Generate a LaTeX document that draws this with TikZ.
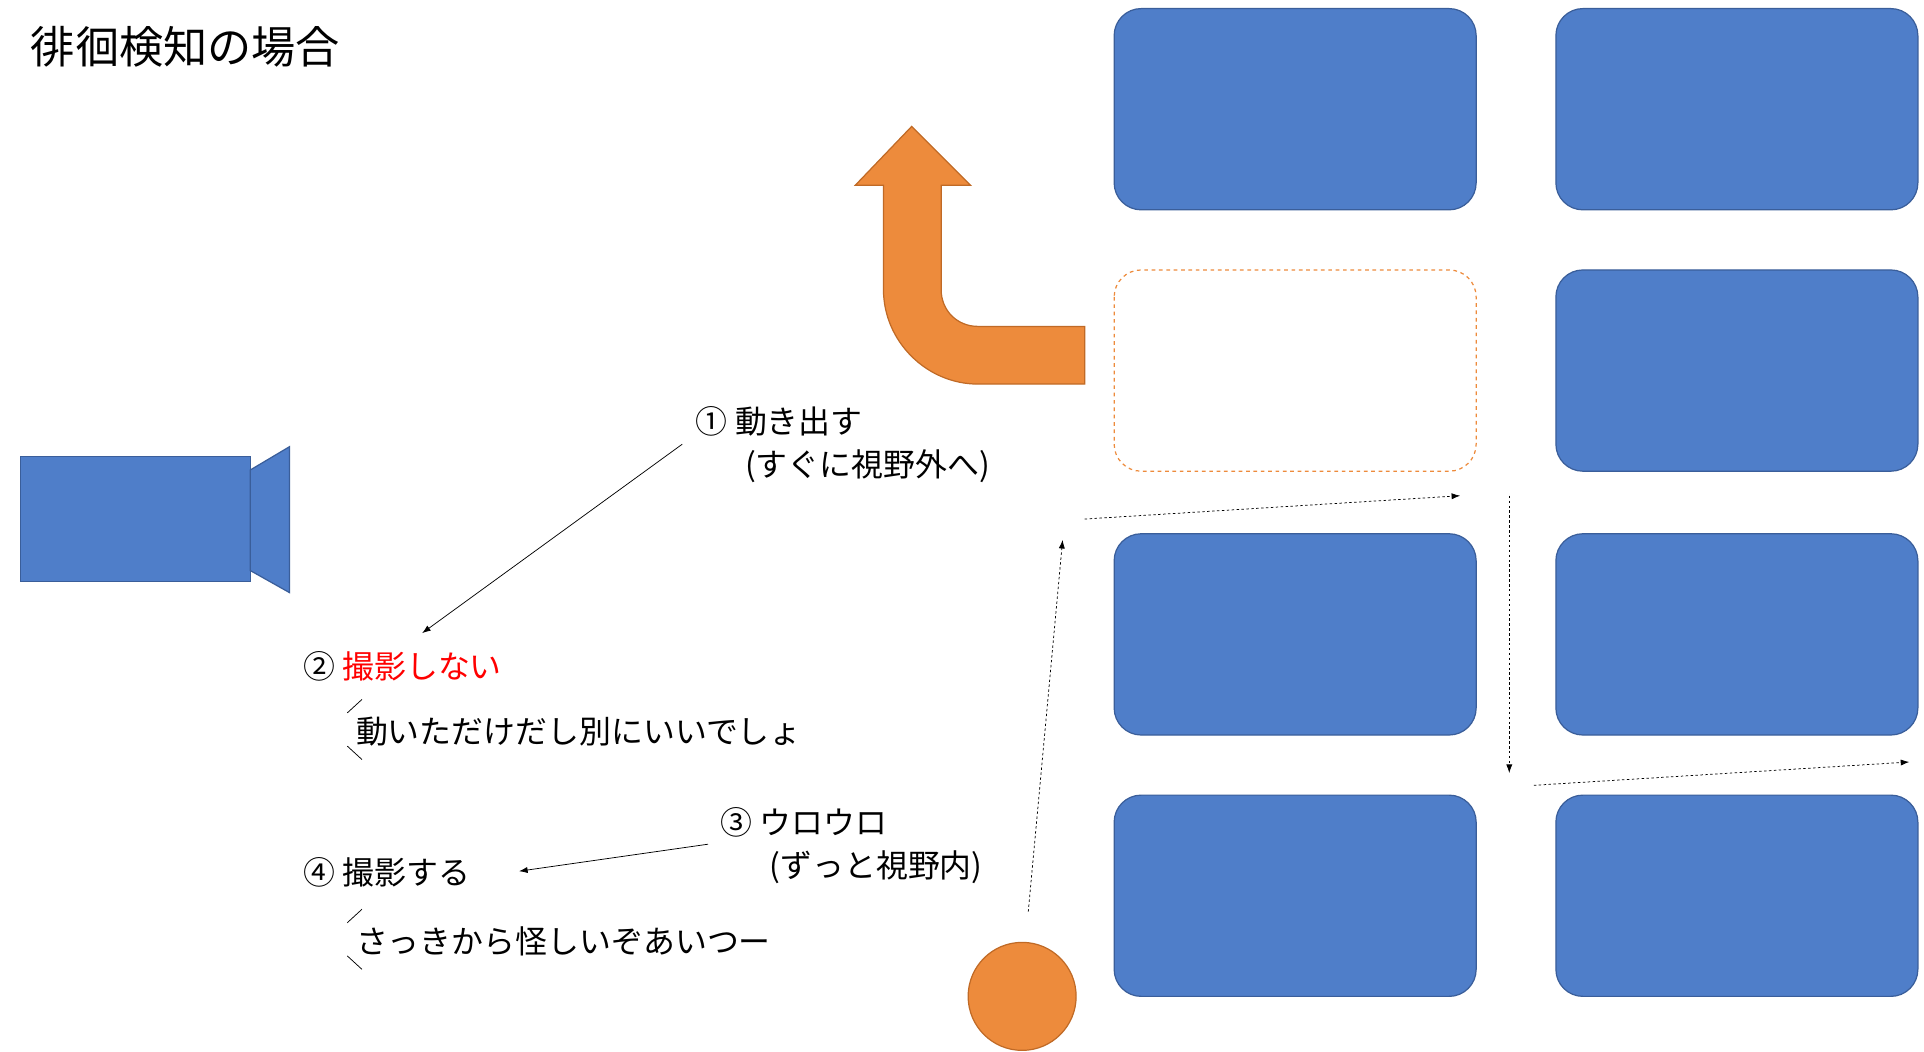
\documentclass[tikz,border=0pt]{standalone}
\usepackage{fontspec}
\setmainfont{Noto Sans CJK JP}
\usetikzlibrary{arrows.meta}
\definecolor{blk}{HTML}{4F7EC9}
\definecolor{bdr}{HTML}{3A5E9A}
\definecolor{org}{HTML}{ED8B3C}
\definecolor{orgd}{HTML}{C06A26}
\begin{document}
\begin{tikzpicture}[x=1pt,y=-1pt,
  blockbox/.style={fill=blk,draw=bdr,line width=1pt,rounded corners=22pt},
  lbl/.style={anchor=west,inner sep=0pt,font=\fontsize{26}{30}\selectfont},
  dotarrow/.style={densely dashed,dash pattern=on 2pt off 2pt,-{Latex[length=7pt,width=5pt]},line width=0.6pt},
  solarrow/.style={-{Latex[length=7pt,width=5pt]},line width=0.6pt}]
\useasboundingbox (0,0) rectangle (1568,857);
\node[anchor=west,inner sep=0pt,font=\fontsize{36}{40}\selectfont] (title) at (25,38) {徘徊検知の場合};
% blocks
\foreach \c/\x in {a/908,b/1268}{
  \foreach \r/\y in {1/7,3/435,4/648}{
    \draw[blockbox] (\x,\y) rectangle ++(295,164);
  }
}
\draw[blockbox] (1268,220) rectangle ++(295,164);
\draw[draw=org,dashed,line width=1pt,rounded corners=22pt] (908,220) rectangle ++(295,164);
% camera
\draw[fill=blk,draw=bdr,line width=1pt] (17,372) rectangle (204,474);
\draw[fill=blk,draw=bdr,line width=1pt] (204,383) -- (236,364) -- (236,483) -- (204,465) -- cycle;
% U-turn arrow
\draw[fill=org,draw=orgd,line width=1pt] (884,266) -- (797,266) .. controls (780,266) and (767,253) .. (767,236)
 -- (767,151) -- (791,151) -- (743,103) -- (697,151) -- (720,151) -- (720,236)
 .. controls (720,278) and (755,313) .. (797,313) -- (884,313) -- cycle;
% person
\draw[fill=org,draw=orgd,line width=1pt] (833,812) circle (44);
% coordinates
\coordinate (p1) at (884,423); \coordinate (p2) at (1190,404);
\coordinate (q1) at (1230,404); \coordinate (q2) at (1230,630);
\coordinate (r1) at (1250,640); \coordinate (r2) at (1556,621);
\coordinate (s1) at (838,743); \coordinate (s2) at (866,440);
\coordinate (t1) at (556,362); \coordinate (t2) at (344,516);
\coordinate (u1) at (577,688); \coordinate (u2) at (423,710);
\draw[dotarrow] (p1) -- (p2);
\draw[dotarrow] (q1) -- (q2);
\draw[dotarrow] (r1) -- (r2);
\draw[dotarrow] (s1) -- (s2);
\draw[solarrow] (t1) -- (t2);
\draw[solarrow] (u1) -- (u2);
% texts
\node[lbl] (l1) at (567,343) {① 動き出す};
\node[lbl] (l1b) at (607,380) {(すぐに視野外へ)};
\node[lbl] (l2) at (247,543) {② \textcolor{red}{撮影しない}};
\node[lbl] (l2b) at (290,596) {動いただけだし別にいいでしょ};
\node[lbl] (l3) at (587,670) {③ ウロウロ};
\node[lbl] (l3b) at (627,707) {(ずっと視野内)};
\node[lbl] (l4) at (247,711) {④ 撮影する};
\node[lbl] (l4b) at (290,767) {さっきから怪しいぞあいつー};
\coordinate (m1) at (283,581); \coordinate (m2) at (295,570);
\coordinate (m3) at (283,608); \coordinate (m4) at (295,619);
\coordinate (n1) at (283,752); \coordinate (n2) at (295,741);
\coordinate (n3) at (283,779); \coordinate (n4) at (295,790);
\draw[line width=0.6pt] (m1) -- (m2) (m3) -- (m4) (n1) -- (n2) (n3) -- (n4);
\end{tikzpicture}
\end{document}
